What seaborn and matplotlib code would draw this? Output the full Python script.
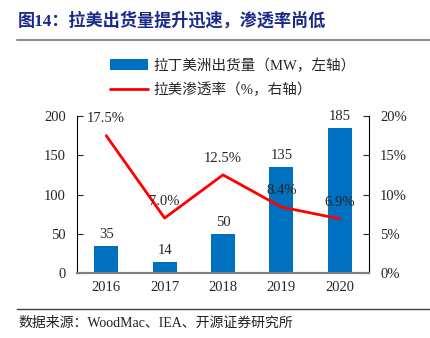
import matplotlib
matplotlib.use("Agg")
import matplotlib.pyplot as plt
import seaborn as sns
import numpy as np
import pandas as pd
from matplotlib.patches import Patch
from matplotlib.lines import Line2D

years = ["2016", "2017", "2018", "2019", "2020"]
shipments = [35, 14, 50, 135, 185]
penetration = [17.5, 7.0, 12.5, 8.4, 6.9]
pen_labels = ["17.5%", "7.0%", "12.5%", "8.4%", "6.9%"]
left_ticks = [0, 50, 100, 150, 200]
right_ticks = [0, 5, 10, 15, 20]
title = "图14：拉美出货量提升迅速，渗透率尚低"
legend_bar = "拉丁美洲出货量（MW，左轴）"
legend_line = "拉美渗透率（%，右轴）"
source = "数据来源：WoodMac、IEA、开源证券研究所"

sns.set_style("white")
FAM = ["Liberation Serif", "Noto Sans CJK SC", "DejaVu Sans"]
plt.rcParams["font.family"] = FAM

BLUE = "#0070C0"
RED = "#FF0000"
NAVY = "#1B2A8A"

fig = plt.figure(figsize=(4.31, 3.38), dpi=100)
ax = fig.add_axes([77/431, 1-273/338, (369-77)/431, (273-116)/338])

df = pd.DataFrame({"year": years, "ship": shipments, "pen": penetration})
sns.barplot(data=df, x="year", y="ship", color=BLUE, width=0.41, ax=ax,
            saturation=1, edgecolor="none")
ax.set_ylim(0, 200)
ax.set_yticks(left_ticks)
ax.set_yticklabels([str(t) for t in left_ticks], fontsize=10.5)
ax.set_xlabel("")
ax.set_ylabel("")
ax.set_xlim(-0.5, 4.5)
for lbl in ax.get_xticklabels():
    lbl.set_fontsize(10.5)
for i, v in enumerate(shipments):
    ax.text(i, v + 6, str(v), ha="center", va="bottom", fontsize=10.5)

ax2 = ax.twinx()
sns.lineplot(x=np.arange(len(years)), y=penetration, color=RED, linewidth=2,
             ax=ax2, sort=False)
ax2.set_ylim(0, 20)
ax2.set_yticks(right_ticks)
ax2.set_yticklabels([f"{t}%" for t in right_ticks], fontsize=10.5)
ax2.set_xlim(-0.5, 4.5)
for i, v in enumerate(penetration):
    ax2.text(i, v + 1.3, pen_labels[i], ha="center", va="bottom", fontsize=10.5)

for a in (ax, ax2):
    a.spines["top"].set_visible(False)
    a.spines["left"].set_color("black")
    a.spines["right"].set_color("black")
    a.spines["left"].set_linewidth(0.8)
    a.spines["right"].set_linewidth(0.8)
    a.spines["bottom"].set_color("#808080")
    a.spines["bottom"].set_linewidth(1.5)
ax.spines["right"].set_visible(False)
ax2.spines["left"].set_visible(False)
ax.tick_params(axis="y", direction="in", length=4, width=0.8, pad=8)
ax2.tick_params(axis="y", direction="in", length=4, width=0.8, pad=8)
ax.tick_params(axis="x", length=0, pad=6)

handles = [Patch(facecolor=BLUE, edgecolor="none"),
           Line2D([0], [0], color=RED, linewidth=2)]
fig.legend(handles, [legend_bar, legend_line], loc="upper left",
           bbox_to_anchor=(97/431, 1-45/338), frameon=False,
           handlelength=2.6, handleheight=0.7, labelspacing=0.65,
           handletextpad=0.35,
           prop={"family": FAM, "size": 10.5})

fig.text(18/431, 1-21/338, title, fontsize=12.3, fontweight="bold", color=NAVY,
         ha="left", va="center", family=FAM)
fig.add_artist(Line2D([17/431, 1], [1-40/338, 1-40/338], color="#909090",
                      linewidth=1.5, transform=fig.transFigure))
fig.add_artist(Line2D([17/431, 1], [1-309/338, 1-309/338], color="#404040",
                      linewidth=1.0, transform=fig.transFigure))
fig.text(18/431, 1-323/338, source, fontsize=10, color="#222222",
         ha="left", va="center", family=FAM)

fig.savefig("out.png", dpi=100)
